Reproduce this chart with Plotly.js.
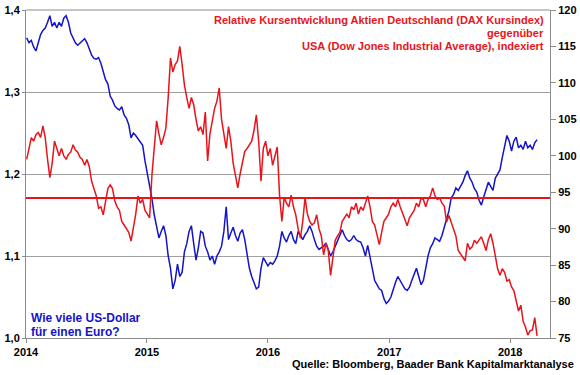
<!DOCTYPE html>
<html>
<head>
<meta charset="utf-8">
<script src="https://cdn.plot.ly/plotly-3.0.1.min.js"></script>
<style>html,body{margin:0;padding:0;background:#fff;}#chart{width:580px;height:375px;}</style>
</head>
<body>
<div id="chart"></div>
<script>
// Weekly observations starting 2014-01-03
const START_DATE = '2014-01-03';
const STEP_DAYS = 7;

// EUR/USD (left axis): how many US dollars for one euro
const eurUsd = [
1.366,1.36,1.363,1.355,1.35,1.36,1.37,1.375,1.378,1.385,
1.393,1.38,1.385,1.378,1.385,1.38,1.39,1.393,1.385,1.372,
1.365,1.36,1.357,1.36,1.362,1.365,1.36,1.352,1.345,1.341,
1.34,1.342,1.335,1.325,1.315,1.31,1.295,1.29,1.283,1.28,
1.278,1.282,1.272,1.268,1.26,1.244,1.25,1.247,1.243,1.24,
1.235,1.216,1.2,1.188,1.17,1.15,1.135,1.122,1.13,1.137,
1.125,1.1,1.085,1.06,1.07,1.09,1.075,1.08,1.105,1.115,
1.13,1.137,1.115,1.095,1.11,1.13,1.128,1.112,1.105,1.095,
1.1,1.09,1.1,1.105,1.112,1.13,1.16,1.12,1.128,1.135,
1.125,1.118,1.128,1.132,1.12,1.1,1.085,1.075,1.068,1.06,
1.062,1.085,1.098,1.092,1.088,1.092,1.09,1.094,1.1,1.112,
1.13,1.122,1.117,1.125,1.13,1.12,1.115,1.13,1.125,1.12,
1.126,1.13,1.137,1.13,1.12,1.112,1.108,1.11,1.112,1.116,
1.108,1.1,1.105,1.112,1.118,1.125,1.132,1.125,1.12,1.118,
1.12,1.125,1.12,1.118,1.117,1.11,1.1,1.113,1.1,1.085,
1.07,1.065,1.06,1.058,1.048,1.042,1.045,1.05,1.06,1.068,
1.075,1.07,1.065,1.06,1.058,1.062,1.07,1.078,1.085,1.075,
1.065,1.07,1.085,1.1,1.11,1.115,1.122,1.12,1.118,1.125,
1.135,1.143,1.155,1.171,1.175,1.183,1.18,1.185,1.19,1.198,
1.204,1.195,1.19,1.182,1.178,1.168,1.162,1.172,1.18,1.19,
1.185,1.18,1.195,1.2,1.205,1.22,1.235,1.247,1.24,1.228,
1.24,1.245,1.232,1.235,1.23,1.24,1.232,1.235,1.23,1.238,
1.242
];

// DAX relative to Dow Jones, indexed (right axis)
const daxVsDow = [
99.5,101,102.5,102,102.9,103.2,102.5,104.1,102.5,99.5,
97.0,99,102,101,100,101,100,99.5,100.2,100.5,
101.5,100.8,100.5,99.8,99.5,98.7,99.5,98.5,96.5,95.5,
94.5,92.8,93,91.9,93.5,95.5,96,95.5,93.8,93,
92.5,91,90.5,90,89.5,88.3,90,92,94.5,93.5,
94,92.5,92,91.5,97.4,101.5,104.8,103,101.5,102.5,
103.8,108,113.4,111.5,112.5,113,115,112.5,109.7,108,
106.5,108,107,105,103.4,104,102.9,106,99.3,103,
105,106.5,107.5,109.3,105,103,101,104,102,99,
97.4,95.6,97.5,99,100.6,101,101.5,102,103.5,105.6,
102,96.5,101,102,100,101,98.7,100,101.2,94.6,
91,94.3,93.5,93,94.6,93,91.9,90,88.7,91,
94.3,92,91,90.5,90.8,91.9,90,89,86.4,88,
87,83.6,86,88.4,89,89.5,91,91.5,92,91.5,
93,92.6,93.5,92,93,92.5,93.5,94.5,93,91,
90.5,89,87.8,89.5,91,91.5,92,93,93.5,93,
94,93,92,91.3,90.4,91.5,92,92.5,93.5,93,
94.2,94,93,94,94.5,95.6,94.5,94,94.2,93.5,
93.1,90.9,91.8,90.9,90,89,87,86.5,86,85.6,
88,87.2,87.5,88.4,88,88.5,88.9,88,87,88.5,
89.3,88,86.4,84.5,83.6,84.5,84,82.8,83,82,
81.5,80,78.7,79.5,77.3,76.5,75.4,76,76.1,77.8,
75.3
];

const referenceLevel = 94.2; // horizontal red line, right axis
const xTickVals = ['2014-01-01','2015-01-01','2016-01-01','2017-01-01','2018-01-01'];
const xTickText = ['2014','2015','2016','2017','2018'];
const yLeftTicks = [1.0, 1.1, 1.2, 1.3, 1.4];
const yRightTicks = [75, 80, 85, 90, 95, 100, 105, 110, 115, 120];

const titleLines = [
  'Relative Kursentwicklung Aktien Deutschland (DAX Kursindex)',
  'gegenüber',
  'USA (Dow Jones Industrial Average), indexiert'
];
const blueLabel = ['Wie viele US-Dollar', 'für einen Euro?'];
const sourceText = 'Quelle: Bloomberg, Baader Bank Kapitalmarktanalyse';

const BLUE = '#1414c8';
const RED = '#e8141c';
const FONT = 'Liberation Sans, Arial, sans-serif';
const stepMs = STEP_DAYS * 86400000;

const traces = [
  {x0: START_DATE, dx: stepMs, y: eurUsd, type: 'scatter', mode: 'lines',
   line: {color: BLUE, width: 1.5}, yaxis: 'y', hoverinfo: 'skip'},
  {x0: START_DATE, dx: stepMs, y: daxVsDow, type: 'scatter', mode: 'lines',
   line: {color: RED, width: 1.5}, yaxis: 'y2', hoverinfo: 'skip'}
];

const tickFont = {family: FONT, size: 11, color: '#000', weight: 'bold'};
const annotations = [];
titleLines.forEach((t, i) => annotations.push({
  text: t, xref: 'paper', yref: 'paper', x: 1, xanchor: 'right', xshift: -4,
  y: 1, yanchor: 'middle', yshift: -10 - 13 * i, showarrow: false, align: 'right',
  font: {family: FONT, size: 11, color: RED, weight: 'bold'}
}));
blueLabel.forEach((t, i) => annotations.push({
  text: t, xref: 'paper', yref: 'paper', x: 0, xanchor: 'left', xshift: 3,
  y: 0, yanchor: 'middle', yshift: 20 - 14 * i, showarrow: false, align: 'left',
  font: {family: FONT, size: 12, color: BLUE, weight: 'bold'}
}));
annotations.push({
  text: sourceText, xref: 'paper', yref: 'paper', x: 1, xanchor: 'right', xshift: 26,
  y: 0, yanchor: 'middle', yshift: -26, showarrow: false,
  font: {family: FONT, size: 11, color: '#000', weight: 'bold'}
});

const layout = {
  width: 580, height: 375,
  margin: {l: 26, r: 30, t: 10, b: 37, pad: 0},
  paper_bgcolor: '#fff', plot_bgcolor: '#fff',
  separators: ',.',
  showlegend: false,
  font: {family: FONT, size: 11, color: '#000'},
  xaxis: {
    type: 'date', range: ['2014-01-01', '2018-05-01'],
    tickvals: xTickVals, ticktext: xTickText,
    showgrid: false, showline: true, linecolor: '#8c8c8c', linewidth: 1,
    ticks: 'outside', ticklen: 4, tickcolor: '#8c8c8c',
    tickfont: tickFont, zeroline: false
  },
  yaxis: {
    range: [1.0, 1.4], tickvals: yLeftTicks, tickformat: '.1f',
    showgrid: true, gridcolor: '#a0a0a0', gridwidth: 1,
    showline: true, linecolor: '#8c8c8c', linewidth: 1,
    ticks: 'outside', ticklen: 3, tickcolor: '#8c8c8c',
    tickfont: tickFont, zeroline: false
  },
  yaxis2: {
    range: [75, 120], tickvals: yRightTicks, overlaying: 'y', side: 'right',
    showgrid: false, showline: true, linecolor: '#8c8c8c', linewidth: 1,
    ticks: 'outside', ticklen: 5, tickcolor: '#8c8c8c',
    tickfont: tickFont, zeroline: false
  },
  shapes: [{
    type: 'line', xref: 'paper', x0: 0, x1: 1, yref: 'y2', y0: referenceLevel, y1: referenceLevel,
    line: {color: RED, width: 2}, layer: 'above'
  }, {
    type: 'line', xref: 'paper', x0: 0, x1: 1, yref: 'paper', y0: 1, y1: 1,
    line: {color: '#8c8c8c', width: 1}
  }],
  annotations: annotations
};

Plotly.newPlot('chart', traces, layout, {staticPlot: true, displayModeBar: false});
</script>
</body>
</html>
